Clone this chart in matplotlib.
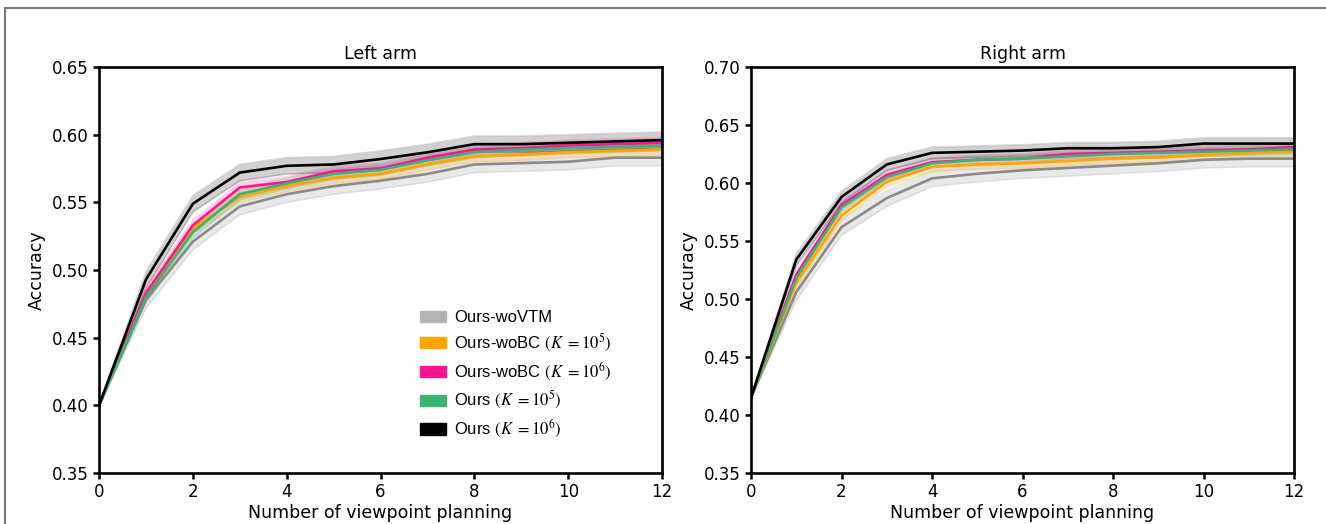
import numpy as np
import matplotlib
matplotlib.use("Agg")
import matplotlib.pyplot as plt
from matplotlib.patches import Patch, Rectangle

plt.rcParams['mathtext.fontset'] = 'stix'

steps = np.arange(13)

names = ["Ours-woVTM", "Ours-woBC $(K\\ =10^5)$", "Ours-woBC $(K\\ =10^6)$",
         "Ours $(K\\ =10^5)$", "Ours $(K\\ =10^6)$"]
line_colors = ["#8a8a8a", "#ffa500", "#ff1493", "#3cb371", "#000000"]
patch_colors = ["#b3b3b3", "#ffa500", "#ff1493", "#3cb371", "#000000"]

# left arm, mean accuracy
left_grey = [0.400, 0.478, 0.521, 0.547, 0.556, 0.562, 0.566, 0.571, 0.578, 0.579, 0.580, 0.583, 0.583]
left_orange = [0.400, 0.482, 0.531, 0.554, 0.562, 0.568, 0.571, 0.578, 0.584, 0.585, 0.587, 0.588, 0.589]
left_pink = [0.400, 0.483, 0.533, 0.561, 0.565, 0.573, 0.575, 0.583, 0.589, 0.590, 0.592, 0.593, 0.594]
left_green = [0.400, 0.480, 0.528, 0.556, 0.564, 0.571, 0.574, 0.581, 0.587, 0.589, 0.590, 0.591, 0.592]
left_black = [0.400, 0.493, 0.549, 0.572, 0.577, 0.578, 0.582, 0.587, 0.593, 0.593, 0.594, 0.595, 0.596]
left_spread = [0.006, 0.004, 0.004, 0.004, 0.006]

# right arm, mean accuracy
right_grey = [0.415, 0.506, 0.562, 0.587, 0.604, 0.608, 0.611, 0.613, 0.615, 0.617, 0.620, 0.621, 0.621]
right_orange = [0.415, 0.514, 0.572, 0.601, 0.614, 0.616, 0.617, 0.619, 0.621, 0.622, 0.624, 0.626, 0.627]
right_pink = [0.415, 0.521, 0.581, 0.607, 0.618, 0.620, 0.621, 0.625, 0.626, 0.627, 0.628, 0.629, 0.631]
right_green = [0.415, 0.518, 0.579, 0.605, 0.617, 0.620, 0.621, 0.623, 0.625, 0.626, 0.627, 0.628, 0.629]
right_black = [0.415, 0.534, 0.588, 0.616, 0.626, 0.627, 0.628, 0.630, 0.630, 0.631, 0.634, 0.634, 0.634]
right_spread = [0.007, 0.004, 0.004, 0.004, 0.005]

left_series = [left_grey, left_orange, left_pink, left_green, left_black]
right_series = [right_grey, right_orange, right_pink, right_green, right_black]

fig = plt.figure(figsize=(13.26, 5.24), dpi=100)
ax1 = fig.add_axes([0.0747, 0.0973, 0.4246, 0.7748])
ax2 = fig.add_axes([0.5664, 0.0973, 0.4095, 0.7748])

# outer grey frame
fig.patches.append(Rectangle((5 / 1326, -0.2), 1.2, 1.2 - 8 / 524,
                             transform=fig.transFigure, fill=False,
                             edgecolor="#777777", lw=1.5))


def draw(ax, series, spread, ylim, yticks, title):
    for vals, s, c in zip(series, spread, line_colors):
        v = np.array(vals)
        sd = s * np.minimum(steps, 1)
        ax.fill_between(steps, v - sd, v + sd, color=c, alpha=0.18, lw=0)
        ax.plot(steps, v - sd, color=c, alpha=0.15, lw=1.2)
        ax.plot(steps, v + sd, color=c, alpha=0.15, lw=1.2)
    for vals, c in zip(series, line_colors):
        ax.plot(steps, vals, color=c, lw=1.9)
    ax.set_xlim(0, 12)
    ax.set_ylim(*ylim)
    ax.set_xticks(range(0, 13, 2))
    ax.set_yticks(yticks)
    ax.set_yticklabels(["%.2f" % t for t in yticks])
    ax.tick_params(labelsize=12, width=1.8, length=4)
    for sp in ax.spines.values():
        sp.set_linewidth(1.9)
    ax.set_xlabel("Number of viewpoint planning", fontsize=12.5, labelpad=2)
    ax.set_ylabel("Accuracy", fontsize=12.5)
    ax.set_title(title, fontsize=12.5, pad=6)


draw(ax1, left_series, left_spread, (0.35, 0.65), np.arange(0.35, 0.651, 0.05), "Left arm")
draw(ax2, right_series, right_spread, (0.35, 0.70), np.arange(0.35, 0.701, 0.05), "Right arm")

handles = [Patch(color=c) for c in patch_colors]
ax1.legend(handles, names, loc="upper left", bbox_to_anchor=(0.558, 0.418),
           frameon=False, prop={"family": "Liberation Sans", "size": 12},
           handlelength=1.55, handleheight=0.65, labelspacing=0.4,
           handletextpad=0.5, borderaxespad=0)

fig.savefig("out.png", dpi=100)
